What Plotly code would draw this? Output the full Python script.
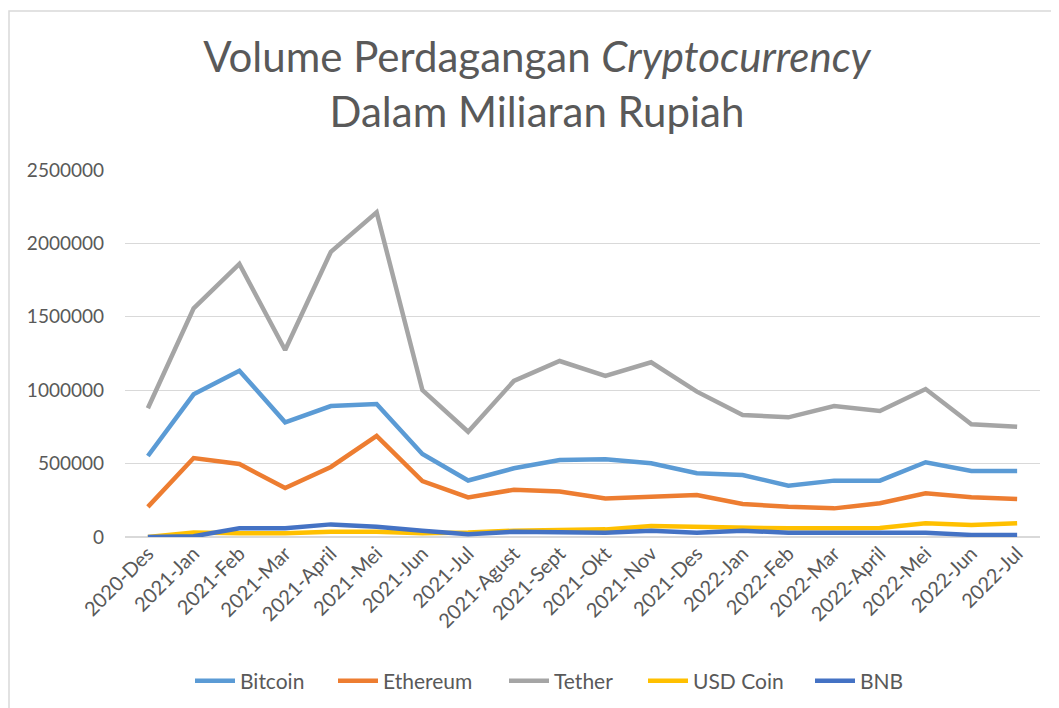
import plotly.graph_objects as go

months = ["2020-Des", "2021-Jan", "2021-Feb", "2021-Mar", "2021-April", "2021-Mei",
          "2021-Jun", "2021-Jul", "2021-Agust", "2021-Sept", "2021-Okt", "2021-Nov",
          "2021-Des", "2022-Jan", "2022-Feb", "2022-Mar", "2022-April", "2022-Mei",
          "2022-Jun", "2022-Jul"]

bitcoin = [552000, 972000, 1133000, 781000, 892000, 906000, 565000, 385000, 468000, 524000,
           530000, 502000, 434000, 422000, 350000, 384000, 384000, 509000, 450000, 450000]
ethereum = [205000, 538000, 497000, 334000, 477000, 688000, 381000, 270000, 322000, 310000,
            262000, 275000, 286000, 225000, 206000, 195000, 230000, 298000, 270000, 259000]
tether = [877000, 1558000, 1860000, 1274000, 1943000, 2212000, 1001000, 717000, 1063000, 1199000,
          1097000, 1190000, 990000, 831000, 815000, 892000, 858000, 1008000, 768000, 751000]
usd_coin = [0, 30000, 25000, 25000, 35000, 35000, 25000, 30000, 43000, 45000,
            52000, 75000, 70000, 59000, 59000, 59000, 61000, 93000, 82000, 93000]
bnb = [0, 5000, 59000, 59000, 86000, 70000, 43000, 18000, 36000, 36000,
       29000, 43000, 29000, 43000, 29000, 29000, 29000, 29000, 14000, 14000]

series = [
    ("Bitcoin", bitcoin, "#5B9BD5"),
    ("Ethereum", ethereum, "#ED7D31"),
    ("Tether", tether, "#A5A5A5"),
    ("USD Coin", usd_coin, "#FFC000"),
    ("BNB", bnb, "#4472C4"),
]

FONT = "Lato, 'Open Sans', sans-serif"
TXT = "#595959"

# the page body has an 8px margin; work in figure pixels = viewport pixels - 8
OFF = 8
W, H = 1059 - OFF, 708 - OFF
L, T = 125 - OFF, 170 - OFF
R = W - (1040 - OFF)
B = H - (537 - OFF)
pw, ph = W - L - R, H - T - B

# viewport pixel where each legend entry's text starts in the reference
legend_text_px = [241, 384, 555, 694, 861]
legend_y = -(681 - 537) / ph

fig = go.Figure()
layout_legends = {}
for i, (name, vals, color) in enumerate(series):
    key = "legend" if i == 0 else f"legend{i + 1}"
    fig.add_trace(go.Scatter(
        x=list(range(len(months))), y=vals, name=name, mode="lines",
        line=dict(color=color, width=4.5, shape="linear"),
        legend=key,
    ))
    layout_legends[key] = dict(
        x=(legend_text_px[i] - 51 - 125) / pw, xanchor="left", xref="paper",
        y=legend_y, yanchor="middle", yref="paper",
        font=dict(size=21, color=TXT), itemwidth=40,
        bgcolor="rgba(0,0,0,0)", borderwidth=0,
    )

fig.update_layout(
    width=W, height=H,
    margin=dict(l=L, r=R, t=T, b=B, autoexpand=False),
    paper_bgcolor="white", plot_bgcolor="white",
    font=dict(family=FONT, color=TXT, size=19),
    title=dict(
        text="Volume Perdagangan <i>Cryptocurrency</i><br>Dalam Miliaran Rupiah",
        x=(537 - OFF) / W, xanchor="center", xref="container",
        y=1 - 64 / H, yanchor="top", yref="container",
        font=dict(family=FONT, size=42, color=TXT),
    ),
    xaxis=dict(
        tickmode="array", tickvals=list(range(len(months))), ticktext=months,
        range=[-0.5, len(months) - 0.5], tickangle=-45, automargin=False,
        showgrid=False, zeroline=False, showline=False, ticks="",
        tickfont=dict(size=20, color=TXT),
    ),
    yaxis=dict(
        range=[0, 2500000], dtick=500000, tickformat="d", automargin=False,
        showgrid=True, gridcolor="#D9D9D9", gridwidth=1,
        zeroline=True, zerolinecolor="#D9D9D9", zerolinewidth=1.5,
        showline=False, ticks="", ticklabelstandoff=20,
        tickfont=dict(size=19, color=TXT),
    ),
    showlegend=True,
    **layout_legends,
)

# chart frame border (top-left corner near viewport (8, 11))
fig.add_shape(
    type="rect", xref="paper", yref="paper",
    x0=(1 - L) / pw, x1=(W + 20 - L) / pw,
    y0=(H - B - 3) / ph, y1=-(B + 20) / ph,
    line=dict(color="#D9D9D9", width=1.5), fillcolor="rgba(0,0,0,0)", layer="below",
)

fig.write_html("out.html")
